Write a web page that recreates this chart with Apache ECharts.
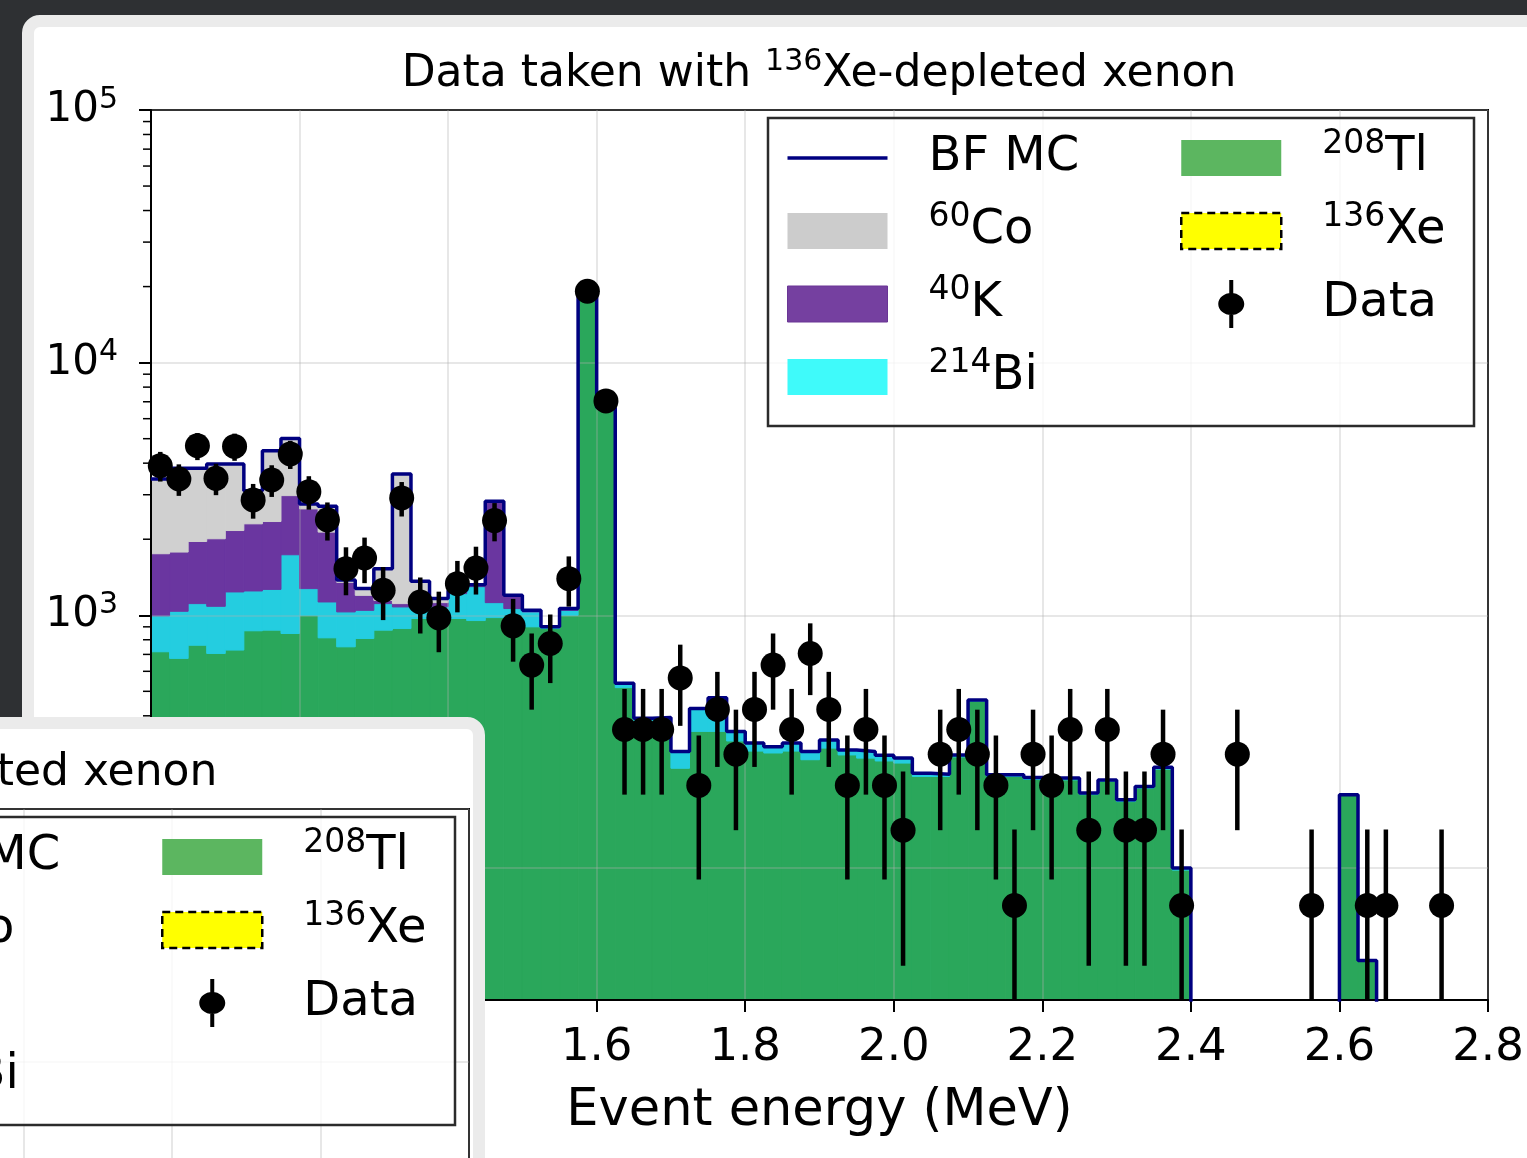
<!DOCTYPE html>
<html>
<head>
<meta charset="utf-8">
<title>Data taken with 136Xe-depleted xenon</title>
<script src="https://cdn.jsdelivr.net/npm/echarts@6.0.0/dist/echarts.min.js"></script>
<style>
  body { margin: 0; width: 1527px; height: 1158px; overflow: hidden; position: relative; background: #2e3033; }
  #card { position: absolute; left: 22px; top: 15px; width: 1560px; height: 1200px; box-sizing: border-box;
          background: #fff; border: 12px solid #ebebeb; border-radius: 18px; }
  #main { position: absolute; left: 0; top: 0; width: 1527px; height: 1158px; }
  #inset { position: absolute; left: -40px; top: 717px; width: 525px; height: 480px; box-sizing: border-box;
           background: #fff; border: 12px solid #ebebeb; border-radius: 18px; overflow: hidden; }
  #inset-chart { position: absolute; left: -991px; top: -30px; width: 1527px; height: 1158px; }
</style>
</head>
<body>
<div id="card"></div>
<div id="main"></div>
<div id="inset"><div id="inset-chart"></div></div>
<script>
// energy binning (MeV)
var binStart = 1.0;
var binWidth = 0.025;
var X_MIN = 1.0, X_MAX = 2.8;
var Y_MIN = 30, Y_MAX = 100000;

// MC components, one value per bin (stacked from bottom: Tl, Bi, K, Co, Xe)
var tl208 = [
  717, 675, 761, 706, 728, 868, 873, 847, 1000, 814, 750, 809,
  873, 886, 971, 927, 971, 953, 979, 1000, 900, 886, 1000, 18860,
  6620, 517, 380, 382, 248, 347, 347, 318, 290, 285, 290, 268,
  298, 280, 272, 265, 260, 230, 230, 275, 457, 230, 230, 224,
  223, 223, 195, 220, 183, 207, 246, 98, 0, 0, 0, 0,
  0, 0, 0, 0, 195, 43, 0, 0, 0, 0, 0, 0
];
var bi214 = [
  278, 362, 351, 379, 509, 380, 393, 889, 275, 315, 281, 237,
  239, 193, 161, 155, 247, 345, 143, 63, 131, 12, 46, 30,
  23, 21, 11, 12, 41, 81, 125, 29, 22, 17, 22, 21,
  23, 13, 17, 14, 12, 7, 5, 5, 5, 4, 4, 4,
  4, 4, 3, 3, 3, 3, 4, 2, 0, 0, 0, 0,
  0, 0, 0, 0, 0, 0, 0, 0, 0, 0, 0, 0
];
var k40 = [
  757, 742, 847, 923, 928, 1053, 1084, 1240, 1362, 1005, 319, 153,
  34, 33, 75, 40, 22, 12, 1681, 133, 8, 1, 12, 0,
  0, 0, 0, 0, 0, 0, 0, 0, 0, 0, 0, 0,
  0, 0, 0, 0, 0, 0, 0, 0, 0, 0, 0, 0,
  0, 0, 0, 0, 0, 0, 0, 0, 0, 0, 0, 0,
  0, 0, 0, 0, 0, 0, 0, 0, 0, 0, 0, 0
];
var co60 = [
  1711, 2038, 1858, 1962, 1805, 812, 2128, 2037, 122, 569, 30, 76,
  383, 2512, 155, 42, 12, 12, 27, 5, 7, 1, 5, 0,
  0, 0, 0, 0, 0, 0, 0, 0, 0, 0, 0, 0,
  0, 0, 0, 0, 0, 0, 0, 0, 0, 0, 0, 0,
  0, 0, 0, 0, 0, 0, 0, 0, 0, 0, 0, 0,
  0, 0, 0, 0, 0, 0, 0, 0, 0, 0, 0, 0
];
var xe136 = [
  0, 0, 0, 0, 0, 0, 0, 0, 0, 0, 0, 0,
  0, 0, 0, 0, 0, 0, 0, 0, 0, 0, 0, 0,
  0, 0, 0, 0, 0, 0, 0, 0, 0, 0, 0, 0,
  0, 0, 0, 0, 0, 0, 0, 0, 0, 0, 0, 0,
  0, 0, 0, 0, 0, 0, 0, 0, 0, 0, 0, 0,
  0, 0, 0, 0, 0, 0, 0, 0, 0, 0, 0, 0
];

// measured data and its error
var dataCounts = [
  3908, 3463, 4688, 3484, 4661, 2861, 3432, 4348, 3085, 2386, 1529, 1685,
  1255, 2914, 1129, 977, 1334, 1538, 2371, 908, 635, 773, 1396, 19170,
  7055, 353, 353, 353, 565, 212, 424, 282, 424, 635, 353, 706,
  424, 212, 353, 212, 141, 0, 282, 353, 282, 212, 71, 282,
  212, 353, 141, 353, 141, 141, 282, 71, 0, 0, 282, 0,
  0, 0, 71, 0, 0, 71, 71, 0, 0, 71, 0, 0
];
var dataErr = [
  525, 494, 575, 496, 574, 449, 492, 554, 467, 410, 329, 345,
  298, 454, 282, 263, 307, 330, 409, 253, 212, 234, 314, 1163,
  706, 158, 158, 158, 200, 122, 173, 141, 173, 212, 158, 223,
  173, 122, 158, 122, 100, 0, 141, 158, 141, 122, 71, 141,
  122, 158, 100, 158, 100, 100, 141, 71, 0, 0, 141, 0,
  0, 0, 71, 0, 0, 71, 71, 0, 0, 71, 0, 0
];

var FONT = 'DejaVu Sans';

var components = [
  { name: '208Tl', values: tl208, fill: '#2aa75b', legend: '#5cb660' },
  { name: '214Bi', values: bi214, fill: '#24cde0', legend: '#3ffafa' },
  { name: '40K',   values: k40,   fill: '#6a36a0', legend: '#7540a0' },
  { name: '60Co',  values: co60,  fill: '#d0d0d0', legend: '#cccccc' },
  { name: '136Xe', values: xe136, fill: '#ffff00', legend: '#ffff00' }
];

function makeOption() {
  var nBins = tl208.length;
  var cum = [];
  for (var i = 0; i < nBins; i++) cum.push(0);

  var series = [];
  components.forEach(function (c) {
    var items = [];
    for (var i = 0; i < nBins; i++) {
      var lo = binStart + i * binWidth;
      var base = cum[i] > 0 ? cum[i] : Y_MIN;
      var top = cum[i] + c.values[i];
      items.push([lo, lo + binWidth, base, top]);
      cum[i] = top;
    }
    series.push({
      name: c.name, type: 'custom', z: 2, silent: true,
      itemStyle: { color: c.legend },
      encode: { x: [0, 1], y: [2, 3] },
      data: items,
      renderItem: function (params, api) {
        var b = api.value(2), t = api.value(3);
        if (!(t > b)) return;
        var p0 = api.coord([api.value(0), t]);
        var p1 = api.coord([api.value(1), b]);
        return {
          type: 'rect',
          shape: { x: p0[0], y: p0[1], width: p1[0] - p0[0], height: p1[1] - p0[1] },
          style: { fill: c.fill, stroke: c.fill, lineWidth: 1 }
        };
      }
    });
  });

  // best-fit MC total as a step outline
  var mcLine = [];
  for (var i = 0; i < nBins; i++) {
    mcLine.push([binStart + i * binWidth, Math.max(cum[i], 1)]);
  }
  mcLine.push([binStart + nBins * binWidth, Math.max(cum[nBins - 1], 1)]);
  series.push({
    name: 'BF MC', type: 'line', step: 'end', z: 4, silent: true,
    symbol: 'none', data: mcLine,
    lineStyle: { color: '#000080', width: 3.5 },
    itemStyle: { color: '#000080' }
  });

  var pts = [];
  for (var i = 0; i < nBins; i++) {
    pts.push([binStart + (i + 0.5) * binWidth, dataCounts[i], dataErr[i]]);
  }
  series.push({
    name: 'Data', type: 'custom', z: 5, silent: true,
    itemStyle: { color: '#000' },
    encode: { x: 0, y: 1 },
    data: pts,
    renderItem: function (params, api) {
      var x = api.value(0), v = api.value(1), e = api.value(2);
      if (!(v > 0)) return;
      var c = api.coord([x, v]);
      var hi = api.coord([x, v + e]);
      var lo = api.coord([x, Math.max(v - e, Y_MIN)]);
      return {
        type: 'group',
        children: [
          { type: 'line', shape: { x1: c[0], y1: hi[1], x2: c[0], y2: lo[1] }, style: { stroke: '#000', lineWidth: 4.5 } },
          { type: 'circle', shape: { cx: c[0], cy: c[1], r: 12.5 }, style: { fill: '#000' } }
        ]
      };
    }
  });

  // minor ticks of the log axis
  var minor = [];
  for (var d = 10; d < Y_MAX; d *= 10) {
    for (var m = 2; m <= 9; m++) {
      if (m * d > Y_MIN && m * d < Y_MAX) minor.push([X_MIN, m * d]);
    }
  }
  series.push({
    name: 'minor', type: 'custom', z: 3, silent: true,
    encode: { x: 0, y: 1 },
    data: minor,
    renderItem: function (params, api) {
      var p = api.coord([api.value(0), api.value(1)]);
      return { type: 'line', shape: { x1: p[0] - 8, y1: p[1], x2: p[0], y2: p[1] }, style: { stroke: '#000', lineWidth: 1.5 } };
    }
  });

  var supRich = function (big, small) {
    return {
      t: { fontFamily: FONT, fontWeight: 'normal', fontSize: big, lineHeight: big + 12, color: '#000' },
      s: { fontFamily: FONT, fontWeight: 'normal', fontSize: small, lineHeight: small, verticalAlign: 'top', color: '#000' },
      g: { width: 36 }
    };
  };

  // every entry gets the same token layout so all rows have the same height
  var legendFmt = function (name) {
    var m = /^(\d+)(.*)$/.exec(name);
    if (!m) return '{g| }{s|\u200b}{t|' + name + '}';
    return '{g| }{s|' + m[1] + '}{t|' + m[2] + '}';
  };

  var patch = 'path://M0,0h100v36h-100z';
  var lineIcon = 'path://M0,0h100v3.5h-100z';
  var dataIcon = 'path://M11,0h4v48h-4z M0,24C0,17.92 5.82,13 13,13C20.18,13 26,17.92 26,24' +
                 'C26,30.08 20.18,35 13,35C5.82,35 0,30.08 0,24Z';

  var legendBase = {
    orient: 'vertical', top: 128, itemWidth: 100, itemHeight: 48, itemGap: 19,
    padding: 0, z: 7, selectedMode: false, formatter: legendFmt,
    textStyle: { rich: supRich(48, 33) }
  };

  return {
    animation: false,
    backgroundColor: 'transparent',
    textStyle: { fontFamily: FONT },
    title: {
      text: '{t|Data taken with }{s|136}{t|Xe-depleted xenon}',
      left: 819, top: 47, padding: 0, textAlign: 'center',
      textStyle: { fontWeight: 'normal', rich: supRich(44, 30) }
    },
    grid: {
      left: 151, right: 39, top: 110, bottom: 158,
      show: true, borderColor: '#000', borderWidth: 2, backgroundColor: 'transparent'
    },
    legend: [
      Object.assign({}, legendBase, {
        left: 787,
        data: [
          { name: 'BF MC', icon: lineIcon, itemStyle: { color: '#000080' } },
          { name: '60Co', icon: patch, itemStyle: { color: '#cccccc' } },
          { name: '40K', icon: patch, itemStyle: { color: '#7540a0', borderColor: '#6a3595', borderWidth: 1 } },
          { name: '214Bi', icon: patch, itemStyle: { color: '#3ffafa' } }
        ]
      }),
      Object.assign({}, legendBase, {
        left: 1180,
        data: [
          { name: '208Tl', icon: patch, itemStyle: { color: '#5cb660' } },
          { name: '136Xe', icon: patch, itemStyle: { color: '#ffff00', borderColor: '#000', borderWidth: 2.5, borderType: [8, 5] } },
          { name: 'Data', icon: dataIcon, itemStyle: { color: '#000' } }
        ]
      })
    ],
    graphic: [{
      type: 'rect', z: 6, silent: true,
      shape: { x: 768, y: 118, width: 706, height: 308 },
      style: { fill: 'rgba(255,255,255,0.8)', stroke: '#2b2b2b', lineWidth: 2.5 }
    }],
    xAxis: {
      type: 'value', min: X_MIN, max: X_MAX, interval: 0.2, z: 3,
      name: 'Event energy (MeV)', nameLocation: 'middle', nameGap: 86,
      nameTextStyle: { fontFamily: FONT, fontSize: 51, color: '#000' },
      axisLine: { show: true, lineStyle: { color: '#000', width: 2 } },
      axisTick: { show: true, inside: false, length: 12, lineStyle: { color: '#000', width: 2 } },
      axisLabel: {
        margin: 23, fontFamily: FONT, fontSize: 45, lineHeight: 50, color: '#000',
        formatter: function (v) { return v.toFixed(1); }
      },
      splitLine: { show: true, lineStyle: { color: 'rgba(176,176,176,0.4)', width: 1.5 } }
    },
    yAxis: {
      type: 'log', logBase: 10, min: Y_MIN, max: Y_MAX, z: 3,
      axisLine: { show: true, lineStyle: { color: '#000', width: 2 } },
      axisTick: { show: true, inside: false, length: 12, lineStyle: { color: '#000', width: 2 } },
      axisLabel: {
        margin: 33, color: '#000',
        formatter: function (v) {
          var e = Math.log10(v);
          if (Math.abs(e - Math.round(e)) > 1e-6) return '';
          return '{t|10}{s|' + Math.round(e) + '}';
        },
        rich: {
          t: { fontFamily: FONT, fontSize: 42, lineHeight: 50, color: '#000' },
          s: { fontFamily: FONT, fontSize: 30, lineHeight: 30, verticalAlign: 'top', color: '#000' }
        }
      },
      splitLine: { show: true, lineStyle: { color: 'rgba(176,176,176,0.4)', width: 1.5 } }
    },
    series: series
  };
}

var chart = echarts.init(document.getElementById('main'));
chart.setOption(makeOption());

// the cropped copy in the lower-left card
var insetChart = echarts.init(document.getElementById('inset-chart'));
insetChart.setOption(makeOption());
</script>
</body>
</html>
